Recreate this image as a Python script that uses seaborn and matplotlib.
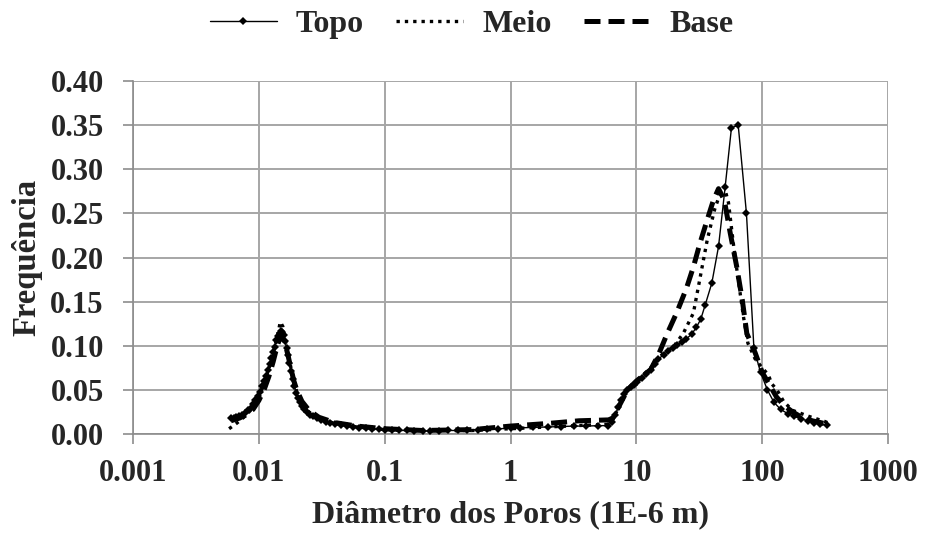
import matplotlib
matplotlib.use("Agg")
import matplotlib.pyplot as plt
import seaborn as sns
import pandas as pd

# ---- data ----
topo_x = [0.0060, 0.0063, 0.0066, 0.0070, 0.0074, 0.0078, 0.0082, 0.0086, 0.0090, 0.0094,
          0.0098, 0.0102, 0.0106, 0.0110, 0.0114, 0.0118, 0.0122, 0.0126, 0.0130, 0.0134,
          0.0138, 0.0142, 0.0146, 0.0150, 0.0154, 0.0158, 0.0162, 0.0166, 0.0170, 0.0175,
          0.0180, 0.0186, 0.0192, 0.0198, 0.0205, 0.0212, 0.0220, 0.0230, 0.0240, 0.0255,
          0.0270, 0.0290, 0.0310, 0.0340, 0.0370, 0.0400, 0.0450, 0.0500, 0.0560, 0.0630,
          0.0710, 0.0800, 0.090, 0.10, 0.115, 0.13, 0.15, 0.17, 0.20, 0.23,
          0.27, 0.32, 0.38, 0.45, 0.55, 0.65, 0.8, 1.0, 1.2, 1.5,
          2.0, 2.5, 3.2, 4.0, 5.0, 6.0, 6.4, 6.8, 7.2, 7.6,
          8.0, 8.5, 9.0, 9.6, 10.2, 11.0, 12.0, 13.0, 14.0, 15.0,
          16.5, 18.0, 19.5, 21.0, 23.0, 25.0, 27.5, 30.0, 32.5, 35.2,
          39.8, 45.0, 50.8, 57.0, 64.5, 75.0, 86.0, 97.0, 110.0, 124.0,
          140.0, 160.0, 180.0, 205.0, 230.0, 260.0, 290.0, 330.0]
topo_y = [0.018, 0.018, 0.019, 0.020, 0.022, 0.024, 0.027, 0.030, 0.034, 0.038,
          0.043, 0.048, 0.054, 0.060, 0.066, 0.073, 0.079, 0.086, 0.093, 0.099,
          0.106, 0.111, 0.115, 0.117, 0.116, 0.112, 0.105, 0.097, 0.089, 0.080,
          0.071, 0.062, 0.054, 0.047, 0.041, 0.036, 0.032, 0.028, 0.025, 0.022,
          0.020, 0.018, 0.016, 0.014, 0.012, 0.011, 0.010, 0.009, 0.008, 0.007,
          0.0065, 0.006, 0.0055, 0.005, 0.0045, 0.004, 0.004, 0.0035, 0.0035, 0.0035,
          0.0035, 0.004, 0.004, 0.0045, 0.005, 0.0055, 0.006, 0.0065, 0.007, 0.0075,
          0.008, 0.0085, 0.009, 0.009, 0.0095, 0.0095, 0.014, 0.022, 0.031, 0.039,
          0.045, 0.050, 0.053, 0.056, 0.059, 0.063, 0.068, 0.073, 0.079, 0.085,
          0.090, 0.094, 0.098, 0.101, 0.104, 0.108, 0.113, 0.121, 0.130, 0.146,
          0.171, 0.2125, 0.280, 0.347, 0.350, 0.250, 0.097, 0.070, 0.050, 0.036,
          0.028, 0.023, 0.020, 0.017, 0.015, 0.013, 0.011, 0.010]

meio_x = [0.0058, 0.0065, 0.0072, 0.008, 0.009, 0.010, 0.011, 0.012, 0.013, 0.014,
          0.0148, 0.0155, 0.016, 0.017, 0.018, 0.019, 0.020, 0.022, 0.025, 0.03,
          0.04, 0.06, 0.1, 0.2, 0.5, 1.0, 2.0, 4.0, 6.0, 6.5,
          7.5, 8.5, 10.0, 13.0, 16.0, 20.0, 23.6, 28.4, 32.2, 36.6,
          42.0, 47.0, 50.0, 54.0, 59.8, 65.7, 71.0, 77.0, 88.0, 100.0,
          112.0, 119.0, 131.0, 148.0, 173.0, 235.0, 318.0, 340.0]
meio_y = [0.006, 0.011, 0.016, 0.022, 0.030, 0.042, 0.057, 0.074, 0.092, 0.110,
          0.127, 0.122, 0.110, 0.092, 0.075, 0.060, 0.048, 0.035, 0.025, 0.018,
          0.012, 0.008, 0.005, 0.004, 0.004, 0.006, 0.008, 0.010, 0.011, 0.016,
          0.035, 0.050, 0.060, 0.075, 0.090, 0.100, 0.114, 0.137, 0.178, 0.220,
          0.255, 0.275, 0.280, 0.262, 0.209, 0.167, 0.133, 0.103, 0.085, 0.075,
          0.067, 0.057, 0.050, 0.037, 0.027, 0.020, 0.014, 0.012]

base_x = [0.006, 0.007, 0.008, 0.009, 0.010, 0.011, 0.012, 0.013, 0.014, 0.015,
          0.016, 0.017, 0.018, 0.019, 0.020, 0.022, 0.025, 0.03, 0.04, 0.06,
          0.1, 0.2, 0.5, 1.0, 2.0, 3.5, 6.0, 6.5, 7.5, 8.5,
          10.0, 13.0, 15.0, 17.5, 21.0, 25.0, 28.5, 32.0, 37.0, 41.0,
          45.0, 50.0, 55.7, 62.7, 69.5, 75.5, 88.0, 100.0, 115.0,
          130.0, 150.0, 175.0, 200.0, 250.0, 290.0, 330.0]
base_y = [0.015, 0.018, 0.022, 0.028, 0.038, 0.050, 0.065, 0.082, 0.100, 0.112,
          0.105, 0.090, 0.074, 0.060, 0.050, 0.037, 0.027, 0.019, 0.013, 0.009,
          0.006, 0.004, 0.005, 0.009, 0.012, 0.015, 0.016, 0.018, 0.035, 0.050,
          0.060, 0.073, 0.090, 0.113, 0.138, 0.165, 0.190, 0.216, 0.245, 0.265,
          0.278, 0.265, 0.228, 0.190, 0.152, 0.114, 0.092, 0.070, 0.055,
          0.042, 0.032, 0.025, 0.020, 0.015, 0.013, 0.011]

x_ticks = [0.001, 0.01, 0.1, 1, 10, 100, 1000]
x_tick_labels = ["0.001", "0.01", "0.1", "1", "10", "100", "1000"]
y_ticks = [0.00, 0.05, 0.10, 0.15, 0.20, 0.25, 0.30, 0.35, 0.40]

sns.set_theme(style="white")
plt.rcParams['font.family'] = ['Liberation Serif', 'DejaVu Serif']
plt.rcParams['font.weight'] = 'bold'

fig = plt.figure(figsize=(9.25, 5.33), dpi=100)
ax = fig.add_axes([0.1438, 0.1857, 0.8162, 0.6623])

df_t = pd.DataFrame({"x": topo_x, "y": topo_y})
df_m = pd.DataFrame({"x": meio_x, "y": meio_y})
df_b = pd.DataFrame({"x": base_x, "y": base_y})

sns.lineplot(data=df_t, x="x", y="y", ax=ax, color="black", linewidth=1.0,
             marker="D", markersize=4.5, markeredgewidth=0, label="Topo", zorder=4)
sns.lineplot(data=df_m, x="x", y="y", ax=ax, color="black", linewidth=2.4,
             linestyle=(0, (1, 1.5)), label="Meio", zorder=3)
sns.lineplot(data=df_b, x="x", y="y", ax=ax, color="black", linewidth=3.6,
             linestyle=(0, (3.2, 1.6)), label="Base", zorder=2)

ax.set_xscale("log")
ax.set_xlim(0.001, 1000)
ax.set_ylim(0, 0.40)
ax.set_xticks(x_ticks)
ax.set_xticklabels(x_tick_labels)
ax.minorticks_off()
ax.set_yticks(y_ticks)
ax.set_yticklabels([f"{v:.2f}" for v in y_ticks])
ax.grid(True, color="#a6a6a6", linewidth=1.4)
ax.set_axisbelow(True)
for side in ["top", "right"]:
    ax.spines[side].set_visible(False)
for side in ["left", "bottom"]:
    ax.spines[side].set_color("#8c8c8c")
    ax.spines[side].set_linewidth(1.2)
ax.tick_params(axis="both", which="major", labelsize=22, length=7, width=1.2,
               color="#8c8c8c", direction="out", left=True, bottom=True)
ax.tick_params(axis="y", pad=14)
ax.tick_params(axis="x", pad=11)
for lab in ax.get_xticklabels() + ax.get_yticklabels():
    lab.set_fontweight("bold")

ax.set_xlabel("Diâmetro dos Poros (1E-6 m)", fontsize=23, fontweight="bold", labelpad=9)
ax.set_ylabel("Frequência", fontsize=23.5, fontweight="bold", labelpad=6)

handles, labels = ax.get_legend_handles_labels()
ax.legend_.remove()
fig.legend(handles, labels, loc="upper center", bbox_to_anchor=(0.51, 1.035), ncol=3,
           frameon=False, prop={"size": 23, "weight": "bold"}, handlelength=2.1,
           columnspacing=1.0, handletextpad=0.6)

fig.savefig("out.png", dpi=100)
